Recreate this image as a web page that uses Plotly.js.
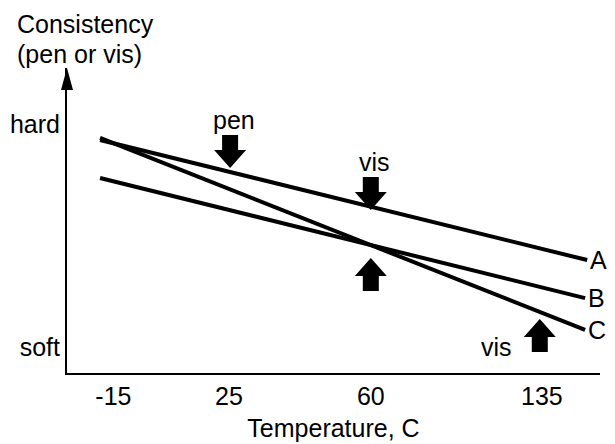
<!DOCTYPE html>
<html><head><meta charset="utf-8">
<script src="https://cdn.plot.ly/plotly-3.0.1.min.js"></script>
<style>html,body{margin:0;padding:0;background:#fff}#chart{width:615px;height:444px}</style>
</head><body><div id="chart"></div>
<script>
// schematic axis units
var lineNames = ['A', 'B', 'C'];
var lineX = [[0.62, 9.76], [0.62, 9.72], [0.62, 9.72]];
var lineY = [[7.90, 3.83], [6.61, 2.54], [7.97, 1.46]];

var tickPos = [0.87, 3.04, 5.70, 8.91];
var tickLabels = ['-15', '25', '60', '135'];
var yTickPos = [8.44, 0.88];
var yTickLabels = ['hard', 'soft'];
var yTitleLines = ['Consistency', '(pen or vis)'];

var arrowLabels = ['pen', 'vis', '', 'vis'];
var arrowX = [3.06, 5.70, 5.70, 8.87];
var arrowTipY = [6.95, 5.53, 3.90, 1.83];
var arrowDir = ['down', 'down', 'up', 'up'];

var FONT = 'Liberation Sans, Arial, Helvetica, sans-serif';
var FS = 25;

var traces = lineNames.map(function (n, i) {
  return {x: lineX[i], y: lineY[i], mode: 'lines', name: n,
    line: {color: '#000', width: 4}, hoverinfo: 'skip'};
});

var annotations = lineNames.map(function (n, i) {
  return {x: lineX[i][1], y: lineY[i][1], text: n, showarrow: false,
    xanchor: 'left', yanchor: 'middle', xshift: 1,
    font: {family: FONT, size: FS, color: '#000'}};
});

var titleCentres = [24, 54];
yTitleLines.forEach(function (t, i) {
  annotations.push({xref: 'paper', yref: 'paper', x: (15 - 67) / 533, y: 1 + (68 - titleCentres[i]) / 305,
    xanchor: 'left', yanchor: 'middle', align: 'left', showarrow: false,
    text: t, font: {family: FONT, size: FS, color: '#000'}});
});

var shapes = [];
// y axis arrow head
shapes.push({type: 'path', xref: 'paper', yref: 'paper', xsizemode: 'pixel', ysizemode: 'pixel',
  xanchor: 0, yanchor: 1, path: 'M -6 -22 L 0 0 L 6 -22 Z', fillcolor: '#000', line: {width: 0}});

arrowX.forEach(function (x, i) {
  var s = arrowDir[i] === 'down' ? 1 : -1; // down: body above tip
  var hh = 18, hw = 16, sw = 8, sl = 15;
  var p = 'M 0 0 L ' + (-hw) + ' ' + (s * hh) + ' L ' + (-sw) + ' ' + (s * hh) +
    ' L ' + (-sw) + ' ' + (s * (hh + sl)) + ' L ' + sw + ' ' + (s * (hh + sl)) +
    ' L ' + sw + ' ' + (s * hh) + ' L ' + hw + ' ' + (s * hh) + ' Z';
  shapes.push({type: 'path', xref: 'x', yref: 'y', xsizemode: 'pixel', ysizemode: 'pixel',
    xanchor: x, yanchor: arrowTipY[i], path: p, fillcolor: '#000', line: {width: 0}});
  if (arrowLabels[i]) {
    var a = {x: x, y: arrowTipY[i], text: arrowLabels[i], showarrow: false,
      font: {family: FONT, size: FS, color: '#000'}};
    if (arrowDir[i] === 'down') { a.yanchor = 'bottom'; a.yshift = hh + sl - 1; a.xshift = 4; }
    else { a.xanchor = 'right'; a.yanchor = 'middle'; a.xshift = -26; a.yshift = -28; }
    annotations.push(a);
  }
});

var layout = {
  width: 615, height: 444,
  margin: {l: 67, r: 15, t: 68, b: 71},
  paper_bgcolor: '#fff', plot_bgcolor: '#fff',
  showlegend: false,
  font: {family: FONT, size: FS, color: '#000'},
  xaxis: {range: [0, 10], showgrid: false, zeroline: false, showline: true, linecolor: '#000', linewidth: 2,
    tickmode: 'array', tickvals: tickPos, ticktext: tickLabels, ticks: '',
    tickfont: {family: FONT, size: FS, color: '#000'},
    title: {text: 'Temperature, C', font: {family: FONT, size: FS, color: '#000'}, standoff: 10},
    fixedrange: true},
  yaxis: {range: [0, 10.34], showgrid: false, zeroline: false, showline: true, linecolor: '#000', linewidth: 2,
    tickmode: 'array', tickvals: yTickPos, ticktext: yTickLabels, ticks: '',
    tickfont: {family: FONT, size: FS, color: '#000'}, fixedrange: true},
  shapes: shapes,
  annotations: annotations
};

Plotly.newPlot('chart', traces, layout, {staticPlot: true, displayModeBar: false});
</script></body></html>
